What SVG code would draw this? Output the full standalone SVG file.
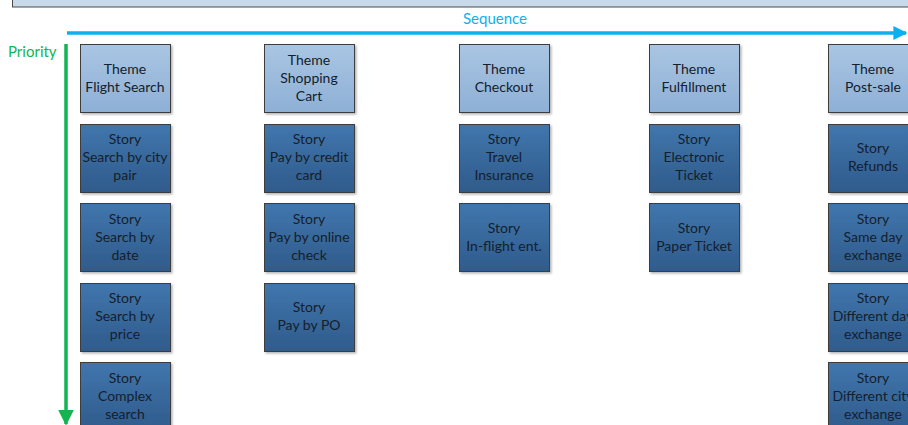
<svg xmlns="http://www.w3.org/2000/svg" width="908" height="425" viewBox="0 0 908 425">
  <defs>
    <linearGradient id="gTheme" x1="0" y1="0" x2="0" y2="1">
      <stop offset="0" stop-color="#a9c5e2"/>
      <stop offset="1" stop-color="#8eb0d6"/>
    </linearGradient>
    <linearGradient id="gStory" x1="0" y1="0" x2="0" y2="1">
      <stop offset="0" stop-color="#4176ad"/>
      <stop offset="1" stop-color="#2f5b8b"/>
    </linearGradient>
    <filter id="shadow" x="-10%" y="-10%" width="130%" height="130%">
      <feDropShadow dx="1.5" dy="1.5" stdDeviation="1" flood-color="#000" flood-opacity="0.3"/>
    </filter>
    <marker id="arrBlue" viewBox="0 0 10 10" refX="9" refY="5" markerWidth="4" markerHeight="4" orient="auto" markerUnits="strokeWidth">
      <path d="M0,0 L10,5 L0,10 Z" fill="#0cb0ee"/>
    </marker>
    <marker id="arrGreen" viewBox="0 0 10 10" refX="9" refY="5" markerWidth="4.5" markerHeight="4.5" orient="auto" markerUnits="strokeWidth">
      <path d="M0,0 L10,5 L0,10 Z" fill="#12b54f"/>
    </marker>
  </defs>
  <style>
    text { font-family: Lato, "Liberation Sans", sans-serif; font-size: 14px; text-anchor: middle; fill: #14202c; }
    .theme rect { fill: url(#gTheme); stroke: #3c3c3c; stroke-width: 1; filter: url(#shadow); }
    .story rect { fill: url(#gStory); stroke: #3c3c3c; stroke-width: 1; filter: url(#shadow); }
    .axis-label { font-size: 15px; text-anchor: start; }
  </style>
  <rect width="908" height="425" fill="#ffffff"/>

  <!-- header band -->
  <rect x="12.5" y="-10" width="910" height="17" fill="#c8daea" stroke="#4a4a4a" stroke-width="1"/>

  <!-- axes -->
  <g id="connectors">
    <line x1="67" y1="33" x2="906" y2="33" stroke="#0cb0ee" stroke-width="3.5" marker-end="url(#arrBlue)"/>
    <line x1="66" y1="44" x2="66" y2="424" stroke="#12b54f" stroke-width="3.5" marker-end="url(#arrGreen)"/>
  </g>
  <text class="axis-label" x="463" y="24" style="fill:#0cb0ee">Sequence</text>
  <text class="axis-label" x="8" y="57" style="fill:#12b54f">Priority</text>

  <!-- Flight Search column -->
  <g id="theme-flight-search" class="theme"><rect x="80.5" y="44.5" width="90" height="68"/>
    <text x="125" y="74">Theme</text><text x="125" y="92">Flight Search</text></g>
  <g id="story-city-pair" class="story"><rect x="80.5" y="124.5" width="90" height="68"/>
    <text x="125" y="144">Story</text><text x="125" y="162">Search by city</text><text x="125" y="180">pair</text></g>
  <g id="story-date" class="story"><rect x="80.5" y="203.5" width="90" height="68"/>
    <text x="125" y="224">Story</text><text x="125" y="242">Search by</text><text x="125" y="260">date</text></g>
  <g id="story-price" class="story"><rect x="80.5" y="283.5" width="90" height="68"/>
    <text x="125" y="303">Story</text><text x="125" y="321">Search by</text><text x="125" y="339">price</text></g>
  <g id="story-complex" class="story"><rect x="80.5" y="362.5" width="90" height="68"/>
    <text x="125" y="383">Story</text><text x="125" y="401">Complex</text><text x="125" y="419">search</text></g>

  <!-- Shopping Cart column -->
  <g id="theme-shopping-cart" class="theme"><rect x="264.5" y="44.5" width="90" height="68"/>
    <text x="309" y="65">Theme</text><text x="309" y="83">Shopping</text><text x="309" y="101">Cart</text></g>
  <g id="story-credit-card" class="story"><rect x="264.5" y="124.5" width="90" height="68"/>
    <text x="309" y="144">Story</text><text x="309" y="162">Pay by credit</text><text x="309" y="180">card</text></g>
  <g id="story-online-check" class="story"><rect x="264.5" y="203.5" width="90" height="68"/>
    <text x="309" y="224">Story</text><text x="309" y="242">Pay by online</text><text x="309" y="260">check</text></g>
  <g id="story-po" class="story"><rect x="264.5" y="283.5" width="90" height="68"/>
    <text x="309" y="312">Story</text><text x="309" y="330">Pay by PO</text></g>

  <!-- Checkout column -->
  <g id="theme-checkout" class="theme"><rect x="459.5" y="44.5" width="90" height="68"/>
    <text x="504" y="74">Theme</text><text x="504" y="92">Checkout</text></g>
  <g id="story-travel-insurance" class="story"><rect x="459.5" y="124.5" width="90" height="68"/>
    <text x="504" y="144">Story</text><text x="504" y="162">Travel</text><text x="504" y="180">Insurance</text></g>
  <g id="story-inflight" class="story"><rect x="459.5" y="203.5" width="90" height="68"/>
    <text x="504" y="233">Story</text><text x="504" y="251">In-flight ent.</text></g>

  <!-- Fulfillment column -->
  <g id="theme-fulfillment" class="theme"><rect x="649.5" y="44.5" width="90" height="68"/>
    <text x="694" y="74">Theme</text><text x="694" y="92">Fulfillment</text></g>
  <g id="story-eticket" class="story"><rect x="649.5" y="124.5" width="90" height="68"/>
    <text x="694" y="144">Story</text><text x="694" y="162">Electronic</text><text x="694" y="180">Ticket</text></g>
  <g id="story-paper-ticket" class="story"><rect x="649.5" y="203.5" width="90" height="68"/>
    <text x="694" y="233">Story</text><text x="694" y="251">Paper Ticket</text></g>

  <!-- Post-sale column -->
  <g id="theme-post-sale" class="theme"><rect x="828.5" y="44.5" width="90" height="68"/>
    <text x="873" y="74">Theme</text><text x="873" y="92">Post-sale</text></g>
  <g id="story-refunds" class="story"><rect x="828.5" y="124.5" width="90" height="68"/>
    <text x="873" y="153">Story</text><text x="873" y="171">Refunds</text></g>
  <g id="story-same-day" class="story"><rect x="828.5" y="203.5" width="90" height="68"/>
    <text x="873" y="224">Story</text><text x="873" y="242">Same day</text><text x="873" y="260">exchange</text></g>
  <g id="story-different-day" class="story"><rect x="828.5" y="283.5" width="90" height="68"/>
    <text x="873" y="303">Story</text><text x="873" y="321">Different day</text><text x="873" y="339">exchange</text></g>
  <g id="story-different-city" class="story"><rect x="828.5" y="362.5" width="90" height="68"/>
    <text x="873" y="383">Story</text><text x="873" y="401">Different city</text><text x="873" y="419">exchange</text></g>
</svg>
